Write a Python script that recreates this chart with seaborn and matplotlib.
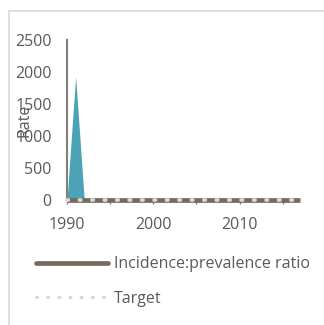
import matplotlib
matplotlib.use("Agg")
import matplotlib.pyplot as plt
from matplotlib.lines import Line2D
import seaborn as sns
import numpy as np
import pandas as pd

years = list(range(1990, 2018))
rate = [0, 1930] + [0] * 26
ratio = [1.0] * 28
target = [0.0] * 28

series_labels = ["Incidence:prevalence ratio", "Target"]
y_label = "Rate"

sns.set_theme(style="white")
plt.rcParams['font.family'] = ['Open Sans', 'DejaVu Sans']
text_color = "#595959"
brown = "#756B5A"
teal = "#4BA3B5"
dotc = "#D9D6D0"
fs = 11.5

fig = plt.figure(figsize=(3.24, 3.25), dpi=100)
x0, x1 = 67, 300
ax = fig.add_axes([x0/324, 1 - 200/325, (x1-x0)/324, 160/325])

df = pd.DataFrame({"year": years, "rate": rate, "ratio": ratio, "target": target})
ax.fill_between(df["year"], df["rate"], 0, color=teal, linewidth=0, zorder=1)
sns.lineplot(data=df, x="year", y="ratio", ax=ax, color=brown, linewidth=3.4,
             solid_capstyle="butt", zorder=2, clip_on=False)
sns.lineplot(data=df, x="year", y="target", ax=ax, color=dotc, linewidth=2.8,
             dashes=False, zorder=3, clip_on=False)
ax.lines[-1].set_linestyle((0, (0.35, 2.85)))
ax.lines[-1].set_dash_capstyle("round")

ax.set_xlim(1990, 2017)
ax.set_ylim(0, 2500)
ax.set_yticks([0, 500, 1000, 1500, 2000, 2500])
ax.set_xticks([1990, 2000, 2010])
ax.set_xticks([1995, 2005, 2015], minor=True)
ax.tick_params(axis="y", length=0, pad=11, labelsize=fs, labelcolor=text_color)
ax.tick_params(axis="x", which="both", length=3, width=1, color="#808080", direction="out",
               pad=9, labelsize=fs, labelcolor=text_color, bottom=True)
for s in ["top", "right", "bottom"]:
    ax.spines[s].set_visible(False)
ax.spines["left"].set_color("#808080")
ax.spines["left"].set_linewidth(1.5)
ax.set_xlabel("")
ax.set_ylabel(y_label, fontsize=fs, color=text_color)
ax.yaxis.set_label_coords((33-x0)/(x1-x0), 0.5)
ax.patch.set_alpha(0)

h1 = Line2D([], [], color=brown, linewidth=3.4, solid_capstyle="round")
h2 = Line2D([], [], color=dotc, linewidth=2.2, linestyle=(0, (0.35, 3.3)), dash_capstyle="round")
fig.legend([h1, h2], series_labels, loc="center left", bbox_to_anchor=(36/324, 1 - 281.5/325),
           frameon=False, handlelength=4.5, handletextpad=0.38, labelspacing=1.15,
           borderpad=0, borderaxespad=0, fontsize=fs, labelcolor=text_color)

fig.add_artist(Line2D([9/324, 9/324], [0, 1 - 11/325], color="#D9D9D9", linewidth=1.2,
                      transform=fig.transFigure))
fig.add_artist(Line2D([9/324, 1], [1 - 11/325, 1 - 11/325], color="#D9D9D9", linewidth=1.2,
                      transform=fig.transFigure))

fig.savefig("out.png", dpi=100)
